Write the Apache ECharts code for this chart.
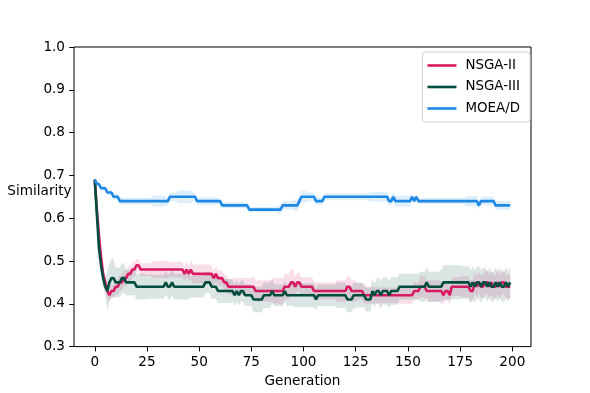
<!DOCTYPE html>
<html>
<head>
<meta charset="utf-8">
<script src="https://cdn.jsdelivr.net/npm/echarts@6/dist/echarts.min.js"></script>
<style>
  html, body { margin: 0; padding: 0; background: #fff; }
  #chart { width: 590px; height: 393px; }
</style>
</head>
<body>
<div id="chart"></div>
<script>
// mean similarity per generation, as [value, number of generations]
var nsga2Runs = [[0.69,1],[0.62,1],[0.56,1],[0.51,1],[0.47,1],[0.45,1],[0.43,1],[0.42,1],
  [0.43,2],[0.44,2],[0.45,2],[0.46,2],[0.47,2],[0.48,2],[0.49,2],[0.48,21],[0.47,1],[0.48,1],
  [0.47,1],[0.48,1],[0.47,10],[0.46,1],[0.47,1],[0.46,3],[0.45,2],[0.44,13],[0.43,14],[0.44,3],
  [0.45,2],[0.44,1],[0.45,2],[0.44,6],[0.43,16],[0.44,2],[0.43,6],[0.42,24],[0.43,3],[0.44,3],
  [0.43,8],[0.42,1],[0.43,2],[0.42,1],[0.44,9],[0.43,2],[0.45,1],[0.44,1],[0.45,1],[0.44,2],
  [0.45,2],[0.44,1],[0.45,1],[0.44,2],[0.45,1],[0.44,1],[0.45,2],[0.44,3]];
var nsga3Runs = [[0.69,1],[0.61,1],[0.53,1],[0.49,1],[0.46,1],[0.44,1],[0.43,1],[0.45,1],
  [0.46,2],[0.45,3],[0.46,2],[0.45,5],[0.44,14],[0.45,1],[0.44,2],[0.45,1],[0.44,15],[0.45,3],
  [0.44,3],[0.43,8],[0.42,1],[0.43,1],[0.42,1],[0.43,2],[0.42,4],[0.41,5],[0.42,4],[0.43,1],
  [0.42,5],[0.43,1],[0.42,14],[0.41,1],[0.42,14],[0.41,3],[0.42,6],[0.41,3],[0.43,1],[0.42,1],
  [0.43,2],[0.42,1],[0.43,3],[0.42,1],[0.43,4],[0.44,13],[0.45,1],[0.44,7],[0.45,13],
  [0.44,1],[0.45,1],[0.44,1],[0.45,2],[0.44,1],[0.45,2],[0.44,1],[0.45,1],[0.44,2],[0.45,1],
  [0.44,1],[0.45,1],[0.44,2],[0.45,1],[0.44,1],[0.45,1]];
var moeadRuns = [[0.69,1],[0.68,2],[0.67,3],[0.66,3],[0.65,3],[0.64,24],[0.65,13],[0.64,12],
  [0.63,13],[0.62,16],[0.63,8],[0.64,1],[0.65,7],[0.64,4],[0.65,31],[0.64,2],[0.65,1],[0.64,8],
  [0.65,1],[0.64,1],[0.65,1],[0.64,29],[0.63,1],[0.64,7],[0.63,8]];

// spread (std) per generation, same run format
var nsga2StdRuns = [[0.005,3],[0.012,3],[0.015,4],[0.018,10],[0.015,8],[0.02,8],[0.018,10],
  [0.022,10],[0.018,10],[0.02,10],[0.025,10],[0.03,10],[0.022,10],[0.02,10],[0.025,10],
  [0.02,10],[0.018,10],[0.02,10],[0.025,10],[0.022,10],[0.025,10],[0.028,14]];
var nsga3StdRuns = [[0.005,3],[0.02,3],[0.045,4],[0.035,5],[0.03,10],[0.028,11],[0.03,10],
  [0.025,10],[0.028,10],[0.025,10],[0.03,10],[0.025,10],[0.028,10],[0.025,10],[0.03,10],
  [0.028,10],[0.032,10],[0.03,10],[0.035,10],[0.04,10],[0.038,10],[0.035,14]];
var moeadStdRuns = [[0.003,3],[0.005,5],[0.007,4],[0.008,16],[0.013,6],[0.01,6],[0.015,7],
  [0.009,12],[0.007,13],[0.006,16],[0.01,8],[0.014,6],[0.01,6],[0.008,24],[0.011,12],
  [0.013,8],[0.007,26],[0.012,6],[0.01,16]];

var names = ["NSGA-II", "NSGA-III", "MOEA/D"];
var colors = ["#D81B60", "#004D40", "#1E88E5"];
var xTicks = [0, 25, 50, 75, 100, 125, 150, 175, 200];

var FONT = "DejaVu Sans";

function expand(runs) {
  var out = [];
  runs.forEach(function (r) { for (var i = 0; i < r[1]; i++) out.push(r[0]); });
  return out;
}

var means = [expand(nsga2Runs), expand(nsga3Runs), expand(moeadRuns)];
var stds = [expand(nsga2StdRuns), expand(nsga3StdRuns), expand(moeadStdRuns)];

var series = [];
// shaded band mean +- std, one polygon per algorithm
means.forEach(function (m, k) {
  var s = stds[k];
  series.push({
    name: names[k] + " band", type: "custom", silent: true, z: 1,
    data: [[0, m[0]]],
    renderItem: function (params, api) {
      var pts = [], g;
      for (g = 0; g < m.length; g++) pts.push(api.coord([g, m[g] + s[g]]));
      for (g = m.length - 1; g >= 0; g--) pts.push(api.coord([g, m[g] - s[g]]));
      return { type: "polygon", shape: { points: pts }, style: { fill: colors[k], opacity: 0.14 } };
    }
  });
});
means.forEach(function (m, k) {
  series.push({
    name: names[k], type: "line", symbol: "none", z: 3,
    lineStyle: { width: 2.6, color: colors[k] }, itemStyle: { color: colors[k] },
    data: m.map(function (v, g) { return [g, v]; })
  });
});

var chart = echarts.init(document.getElementById("chart"), null, { renderer: "canvas" });
chart.setOption({
  animation: false,
  backgroundColor: "#fff",
  grid: { left: 74, right: 59, top: 47, bottom: 43, show: true, borderColor: "#000", borderWidth: 1, backgroundColor: "transparent" },
  legend: {
    data: names, orient: "vertical", right: 60, top: 52,
    icon: "rect", itemWidth: 29, itemHeight: 2.6, itemGap: 8.5,
    backgroundColor: "#fff", borderColor: "#d0d0d0", borderWidth: 1, borderRadius: 3,
    padding: [7, 10, 7, 5],
    textStyle: { fontFamily: FONT, fontSize: 13.4, color: "#000", padding: [0, 0, 0, 4] }
  },
  xAxis: {
    type: "value", min: -9.95, max: 208.95,
    name: "Generation", nameLocation: "middle", nameGap: 27,
    nameTextStyle: { fontFamily: FONT, fontSize: 13.6, color: "#000" },
    axisLine: { show: false, onZero: false },
    axisTick: { show: true, length: 4.8, lineStyle: { color: "#000" }, customValues: xTicks },
    axisLabel: { fontFamily: FONT, fontSize: 13.6, color: "#000", margin: 8.5, customValues: xTicks },
    splitLine: { show: false }
  },
  yAxis: {
    type: "value", min: 0.3, max: 1.0, interval: 0.1,
    axisLine: { show: false, onZero: false },
    axisTick: { show: true, length: 4.8, lineStyle: { color: "#000" } },
    axisLabel: { fontFamily: FONT, fontSize: 13.6, color: "#000", margin: 9,
      formatter: function (v) { return v.toFixed(1); } },
    splitLine: { show: false }
  },
  graphic: [{
    type: "text", x: 39.5, y: 198.5,
    style: { text: "Similarity", fontFamily: FONT, fontSize: 13.6, fill: "#000", align: "center", verticalAlign: "bottom" }
  }],
  series: series
});
</script>
</body>
</html>
